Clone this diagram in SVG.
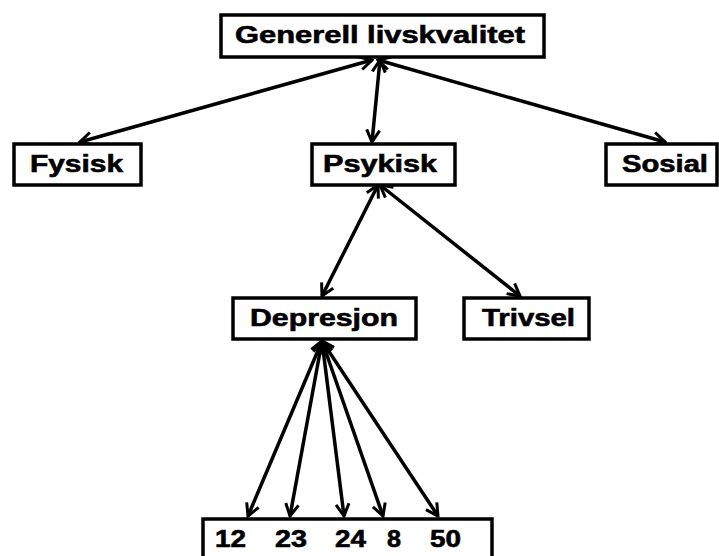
<svg xmlns="http://www.w3.org/2000/svg" width="719" height="556" viewBox="0 0 719 556">
  <style>
    .box { fill: #fff; stroke: #000; stroke-width: 3.5; }
    .lbl { font-family: "Liberation Sans", Arial, sans-serif; font-weight: bold; font-size: 23px; fill: #000; stroke: #000; stroke-width: 0.6; }
    .edge { stroke: #000; stroke-width: 3.5; fill: none; marker-start: url(#head); marker-end: url(#head); }
  </style>
  <defs>
    <marker id="head" viewBox="0 0 16 16" refX="14" refY="8" markerWidth="16" markerHeight="16" markerUnits="userSpaceOnUse" orient="auto-start-reverse">
      <polyline points="2,1.5 14,8 2,14.5" fill="none" stroke="#000" stroke-width="3"/>
    </marker>
  </defs>

  <rect width="719" height="556" fill="#fff"/>

  <g id="connectors">
    <line class="edge" x1="372" y1="60" x2="80" y2="142"/>
    <line class="edge" x1="380" y1="60" x2="372" y2="142"/>
    <line class="edge" x1="378" y1="60" x2="665" y2="142"/>
    <line class="edge" x1="378" y1="185" x2="322" y2="296"/>
    <line class="edge" x1="380" y1="185" x2="520" y2="296"/>
    <line class="edge" x1="322" y1="341" x2="248" y2="516"/>
    <line class="edge" x1="322" y1="341" x2="290" y2="516"/>
    <line class="edge" x1="322" y1="341" x2="344" y2="516"/>
    <line class="edge" x1="322" y1="341" x2="383" y2="516"/>
    <line class="edge" x1="322" y1="341" x2="438" y2="516"/>
  </g>

  <g id="generell">
    <rect class="box" x="221" y="15" width="323" height="42"/>
    <text class="lbl" x="235" y="43" textLength="290" lengthAdjust="spacingAndGlyphs">Generell livskvalitet</text>
  </g>

  <g id="fysisk">
    <rect class="box" x="14" y="144" width="127" height="41"/>
    <text class="lbl" x="30" y="172" textLength="93" lengthAdjust="spacingAndGlyphs">Fysisk</text>
  </g>

  <g id="psykisk">
    <rect class="box" x="312" y="144" width="143" height="41"/>
    <text class="lbl" x="323" y="172" textLength="114" lengthAdjust="spacingAndGlyphs">Psykisk</text>
  </g>

  <g id="sosial">
    <rect class="box" x="606" y="144" width="111" height="41"/>
    <text class="lbl" x="622" y="172" textLength="86" lengthAdjust="spacingAndGlyphs">Sosial</text>
  </g>

  <g id="depresjon">
    <rect class="box" x="233" y="298" width="183" height="41"/>
    <text class="lbl" x="250" y="326" textLength="148" lengthAdjust="spacingAndGlyphs">Depresjon</text>
  </g>

  <g id="trivsel">
    <rect class="box" x="464" y="298" width="125" height="41"/>
    <text class="lbl" x="482" y="326" textLength="93" lengthAdjust="spacingAndGlyphs">Trivsel</text>
  </g>

  <g id="verdier">
    <rect class="box" x="203" y="519" width="289" height="50"/>
    <text class="lbl" x="215" y="547" textLength="31" lengthAdjust="spacingAndGlyphs">12</text>
    <text class="lbl" x="275" y="547" textLength="32" lengthAdjust="spacingAndGlyphs">23</text>
    <text class="lbl" x="335" y="547" textLength="31" lengthAdjust="spacingAndGlyphs">24</text>
    <text class="lbl" x="387" y="547" textLength="14" lengthAdjust="spacingAndGlyphs">8</text>
    <text class="lbl" x="430" y="547" textLength="31" lengthAdjust="spacingAndGlyphs">50</text>
  </g>
</svg>
